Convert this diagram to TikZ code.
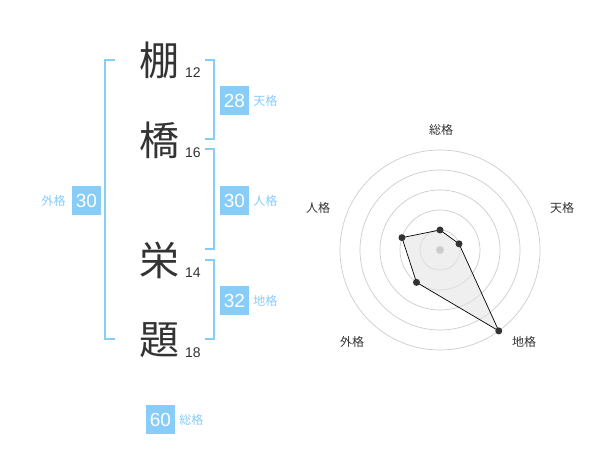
\documentclass[tikz,border=0pt]{standalone}
\usepackage{fontspec}
\setmainfont{Liberation Sans}
\newfontfamily\jpfont{Noto Sans CJK JP}
\usetikzlibrary{calc}

\definecolor{kakublue}{HTML}{88CCF8}
\definecolor{inkgray}{HTML}{333333}
\definecolor{ringgray}{HTML}{CCCCCC}
\definecolor{fillgray}{HTML}{E4E4E4}

\tikzset{
  bigchar/.style={font=\jpfont\fontsize{40}{40}\selectfont, text=inkgray, inner sep=0pt},
  strokes/.style={anchor=base west, font=\fontsize{14}{14}\selectfont, text=inkgray, inner sep=0pt},
  kakubox/.style={fill=kakublue, text=white, minimum size=29pt, inner sep=0pt,
    font=\fontsize{19}{19}\selectfont},
  kakulbl/.style={text=kakublue, inner sep=0pt, font=\jpfont\fontsize{12}{12}\selectfont},
  bracket/.style={draw=kakublue, line width=2pt},
  axislbl/.style={text=inkgray, inner sep=0pt, font=\jpfont\fontsize{12}{12}\selectfont},
}

\begin{document}
\begin{tikzpicture}[x=1pt, y=-1pt]
  \useasboundingbox (0,0) rectangle (600,470);

  % 参数
  \def\cx{440}    % 雷达图中心
  \def\cy{250}
  \def\dotr{3.5}  % 顶点圆点半径

  % ---- 左侧: 名字与笔画数 ----
  \node[bigchar] (c1) at (159,60) {棚};
  \node[bigchar] (c2) at (159,140) {橋};
  \node[bigchar] (c3) at (159,260) {栄};
  \node[bigchar] (c4) at (159,340) {題};
  \node[strokes] (n1) at (185,77.5) {12};
  \node[strokes] (n2) at (185,157.5) {16};
  \node[strokes] (n3) at (185,277.5) {14};
  \node[strokes] (n4) at (185,357.5) {18};

  % ---- 括号 ----
  \draw[bracket] (115,60) -- (105,60) -- (105,339) -- (115,339);
  \draw[bracket] (205,60) -- (214,60) -- (214,139) -- (205,139);
  \draw[bracket] (205,149) -- (214,149) -- (214,249) -- (205,249);
  \draw[bracket] (205,260) -- (214,260) -- (214,339) -- (205,339);

  % ---- 格数 ----
  \node[kakubox] (ten) at (234.5,100.5) {28};
  \node[kakulbl, anchor=west] (tenl) at ($(ten.east)+(4,0)$) {天格};
  \node[kakubox] (jin) at (234.5,200.5) {30};
  \node[kakulbl, anchor=west] (jinl) at ($(jin.east)+(4,0)$) {人格};
  \node[kakubox] (chi) at (234.5,300.5) {32};
  \node[kakulbl, anchor=west] (chil) at ($(chi.east)+(4,0)$) {地格};
  \node[kakubox] (gai) at (86.5,200.5) {30};
  \node[kakulbl, anchor=east] (gail) at ($(gai.west)+(-6,0)$) {外格};
  \node[kakubox] (sou) at (160.5,419.5) {60};
  \node[kakulbl, anchor=west] (soul) at ($(sou.east)+(4,0)$) {総格};

  % ---- 右侧: 雷达图 ----
  \coordinate (ctr) at (\cx,\cy);
  \foreach \r in {20,40,60,80,100}
    \draw[ringgray, line width=0.7pt] (ctr) circle[radius=\r];

  % 顶点 (y 轴向下, 角度取负)
  \coordinate (pSou) at ($(ctr)+(-90:20)$);
  \coordinate (pTen) at ($(ctr)+(-18:20)$);
  \coordinate (pChi) at ($(ctr)+(54:100)$);
  \coordinate (pGai) at ($(ctr)+(126:40)$);
  \coordinate (pJin) at ($(ctr)+(198:40)$);

  \filldraw[fill=fillgray, fill opacity=0.6, draw=black, line width=0.7pt]
    (pSou) -- (pTen) -- (pChi) -- (pGai) -- (pJin) -- cycle;
  \fill[ringgray] (ctr) circle[radius=4];
  \foreach \p in {pSou,pTen,pChi,pGai,pJin}
    \fill[inkgray] (\p) circle[radius=\dotr];

  % 轴标签
  \node[axislbl] (aSou) at (441,130) {総格};
  \node[axislbl] (aTen) at (562,208) {天格};
  \node[axislbl] (aChi) at (524,342) {地格};
  \node[axislbl] (aGai) at (352,342) {外格};
  \node[axislbl] (aJin) at (318,208) {人格};

\end{tikzpicture}
\end{document}
